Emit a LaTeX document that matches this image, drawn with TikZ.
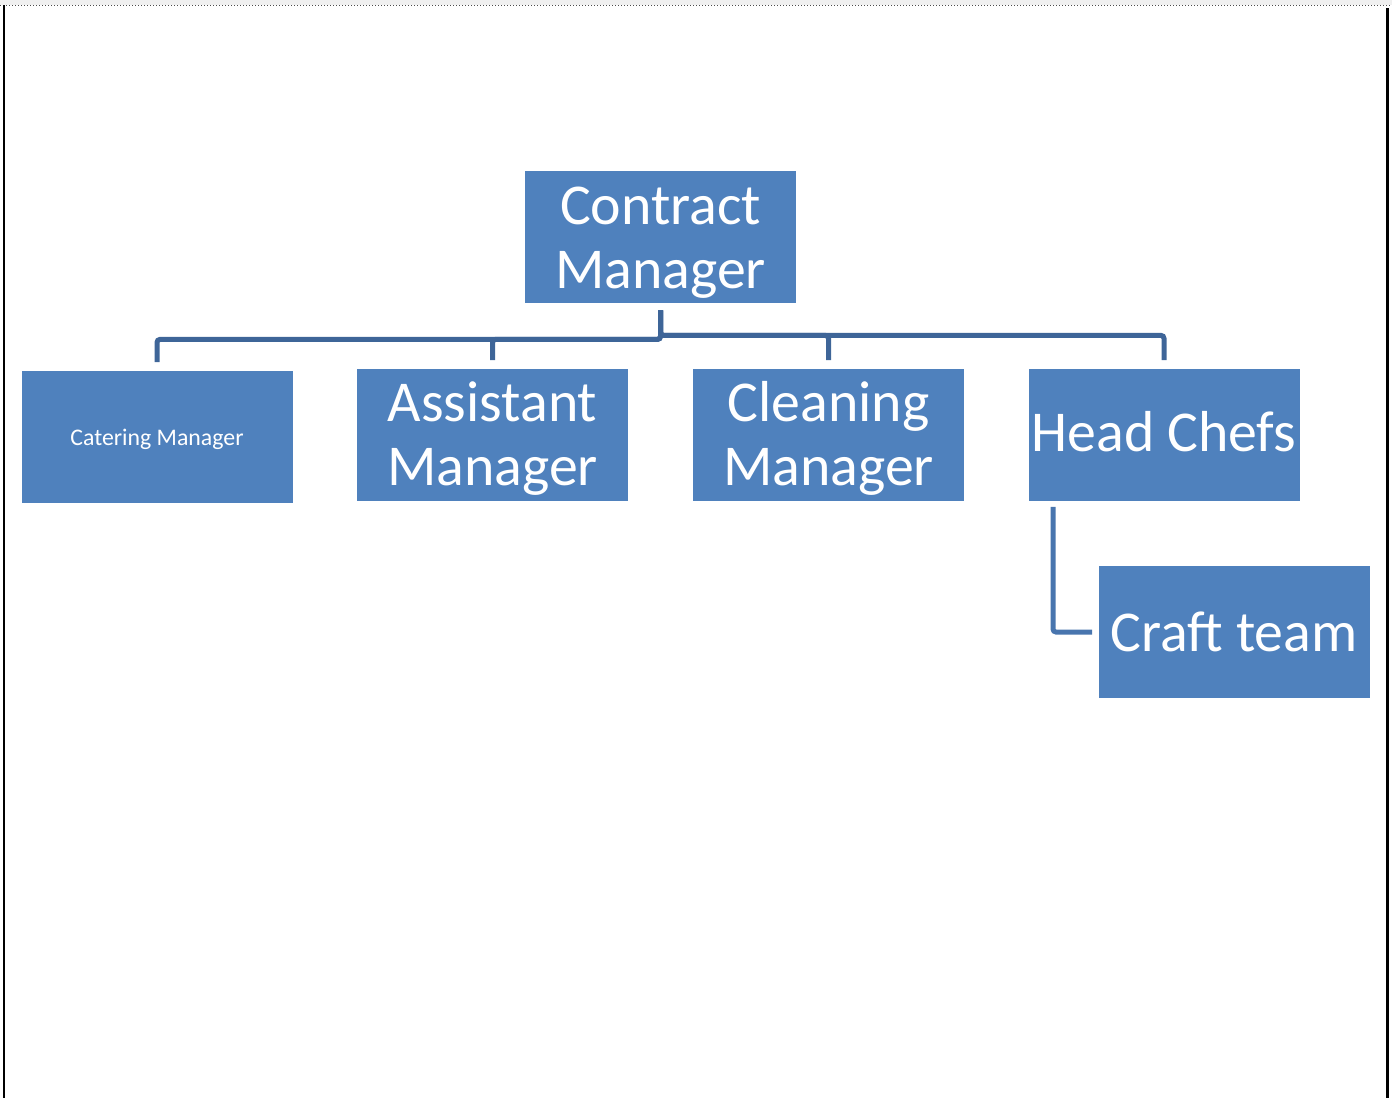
\documentclass[tikz,border=0pt]{standalone}
\usepackage{fontspec}
\setmainfont{Carlito}
\usetikzlibrary{positioning, calc}
\definecolor{cBox}{RGB}{79,129,189}
\definecolor{cLine}{RGB}{62,101,152}
\definecolor{cLineB}{RGB}{72,117,174}
\definecolor{cStrip}{RGB}{240,240,240}
\newcommand{\tallstrut}[1]{\rule{0pt}{#1}}

\begin{document}
\begin{tikzpicture}[x=0.5pt, y=-0.5pt,
            box/.style={rectangle, fill=cBox, text=white, minimum width=135.5pt, minimum height=66pt,
                        inner sep=1pt, align=center, font=\fontsize{28.9}{32}\selectfont},
            ln/.style={draw=cLine, line width=2.5pt, rounded corners=1.5pt, shorten <=3.5pt, shorten >=4pt},
            lnb/.style={draw=cLineB, line width=2.5pt, rounded corners=1.5pt, shorten >=3pt}]
            \useasboundingbox (0,0) rectangle (1392,1098);
            % page edges
            \fill[cStrip] (0,0) rectangle (1392,5);
            \draw[black!70, densely dotted, line width=0.5pt] (0,5.5) -- (1392,5.5);
            \draw[black, line width=1pt] (3.5,5) -- (3.5,1098);
            \draw[black, line width=1.5pt] (1387.5,8) -- (1387.5,1098);
            % boxes
            \node[box] (cm)    at (660.5,237)  {\tallstrut{24pt}Contract\\Manager};
            \node[box, font=\fontsize{11.9}{14}\selectfont] (cat) at (157,436.5) {\tallstrut{11pt}Catering Manager};
            \node[box] (asst)  at (492.5,434.5) {\tallstrut{24pt}Assistant\\Manager};
            \node[box] (clean) at (828.5,434.5) {\tallstrut{24pt}Cleaning\\Manager};
            \node[box] (chef)  at (1164,434.5)  {\rule[-3pt]{0pt}{3pt}Head Chefs};
            \node[box] (craft) at (1234,632)    {Craft team};
            % connectors
            \draw[ln] (cm.south) -- ++(0,36) -| (cat.north);
            \draw[ln] (cm.south) -- ++(0,36) -| (asst.north);
            \draw[ln] (cm.south) -- ++(0,32) -| (clean.north);
            \draw[ln] (cm.south) -- ++(0,32) -| (chef.north);
            \coordinate (chefdrop) at ($(chef.south)+(-111,6)$);
            \draw[lnb] (chefdrop) |- (craft.west);
        \end{tikzpicture}
\end{document}
